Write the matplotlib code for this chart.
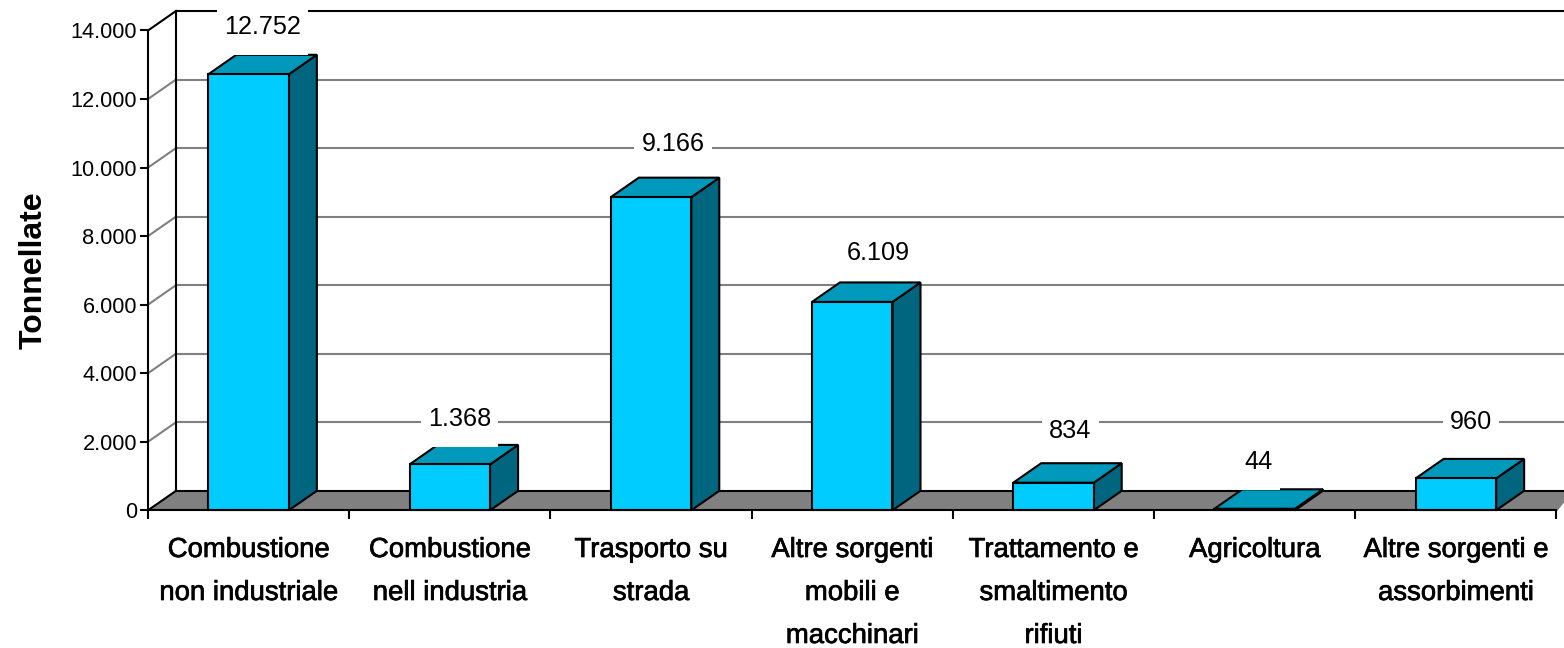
import matplotlib
matplotlib.use("Agg")
import matplotlib.pyplot as plt
import matplotlib.patheffects as pe
from matplotlib.patches import Polygon, Rectangle
from matplotlib.transforms import IdentityTransform, offset_copy

categories = ["Combustione\nnon industriale", "Combustione\nnell industria", "Trasporto su\nstrada",
              "Altre sorgenti\nmobili e\nmacchinari", "Trattamento e\nsmaltimento\nrifiuti",
              "Agricoltura", "Altre sorgenti e\nassorbimenti"]
values = [12752, 1368, 9166, 6109, 834, 44, 960]
value_labels = ["12.752", "1.368", "9.166", "6.109", "834", "44", "960"]
y_ticks = [0, 2000, 4000, 6000, 8000, 10000, 12000, 14000]
y_tick_labels = ["0", "2.000", "4.000", "6.000", "8.000", "10.000", "12.000", "14.000"]
y_title = "Tonnellate"

# label placement, pixels from the bar's front-top centre
label_dx_px = [14, 10, 22, 26, 17, 4, 15]
label_dy_px = [47, 45, 53, 49, 52, 47, 56]

W, H = 1564, 648
plt.rcParams['font.family'] = ['Liberation Sans', 'DejaVu Sans']
fig = plt.figure(figsize=(W / 100, H / 100), dpi=100)
L, R, T, B = 148, 1556.5, 30.5, 510.3
ax = fig.add_axes([L / W, 1 - B / H, (R - L) / W, (B - T) / H])
ax.set_xlim(0, 7)
ax.set_ylim(0, 14000)
ux = (R - L) / 7
uy = (B - T) / 14000
dx = 28 / ux
dy = 19.5 / uy
xend = (W + 1 - L) / ux
bw = 0.4
lw = 1.5
bar_shift = 1.0 / uy


def poly(pts, fc, ec='black', z=2.0, lw_=lw):
    ax.add_patch(Polygon(pts, closed=True, fc=fc, ec=ec, lw=lw_, zorder=z, clip_on=False, joinstyle='miter'))


def line(xs, ys, c='black', z=2.0, lw_=lw):
    ax.plot(xs, ys, color=c, lw=lw_, zorder=z, clip_on=False, solid_capstyle='projecting')


# floor
poly([(0, 0), (dx, dy), (xend, dy), (xend, 0.55 * dy), (7, 0)], '#808080', ec='none', z=1)
line([0, dx], [0, dy], z=1.5)
line([dx, xend], [dy, dy], z=1.5)
line([0, 7], [0, 0], z=5)
line([7, xend], [0, 0.55 * dy], c='#808080', z=1.5)

# walls and grid
for t in y_ticks[1:-1]:
    line([0, dx], [t, t + dy], c='#808080', z=1.2)
    line([dx, xend], [t + dy, t + dy], c='#808080', z=1.2)
line([0, dx], [14000, 14000 + dy], z=1.3)
line([dx, xend], [14000 + dy, 14000 + dy], z=1.3)
line([dx, dx], [dy, 14000 + dy], z=1.3)
line([0, 0], [0, 14000], z=5)

# bars
renderer = fig.canvas.get_renderer()
for i, (v, lab) in enumerate(zip(values, value_labels)):
    h = v if v < 2 * bar_shift else v - bar_shift
    x0 = i + 0.5 - bw / 2
    x1 = x0 + bw
    poly([(x1, 0), (x1 + dx, dy), (x1 + dx, h + dy), (x1, h)], '#006680', z=3)
    poly([(x0, h), (x0 + dx, h + dy), (x1 + dx, h + dy), (x1, h)], '#0099BB', z=3)
    ax.add_patch(Rectangle((x0, 0), bw, h, fc='#00CCFF', ec='black', lw=lw, zorder=3.1, clip_on=False))
    tr = offset_copy(ax.transData, fig=fig, x=label_dx_px[i], y=label_dy_px[i], units='dots')
    t = ax.text((x0 + x1) / 2, h, lab, ha='center', va='center', fontsize=18.2, color='black',
                zorder=6, transform=tr, clip_on=False)
    ext = t.get_window_extent(renderer)
    cy = (ext.y0 + ext.y1) / 2
    ax.add_patch(Rectangle((ext.x0 - 7, cy - 28), ext.width + 14, 57, fc='white', ec='none',
                           transform=IdentityTransform(), zorder=5.5, clip_on=False))

# axis ticks
ax.set_xticks(range(8))
ax.set_xticklabels([])
ax.set_yticks(y_ticks)
ax.set_yticklabels(y_tick_labels, fontsize=15.7)
ax.tick_params(axis='y', length=6, width=1.5, pad=2)
ax.tick_params(axis='x', length=6.5, width=1.5)
for s in ax.spines.values():
    s.set_visible(False)
ax.patch.set_visible(False)

for i, c in enumerate(categories):
    fig.text((L + ux * (i + 0.5)) / W, 1 - 537 / H, c, ha='center', va='top', fontsize=19.8,
             linespacing=1.85, color='black',
             path_effects=[pe.withStroke(linewidth=0.5, foreground='black')])

fig.text(34 / W, 1 - 270 / H, y_title, rotation=90, ha='center', va='center', fontsize=23, fontweight='bold')
fig.savefig('out.png', dpi=100, facecolor='white')
